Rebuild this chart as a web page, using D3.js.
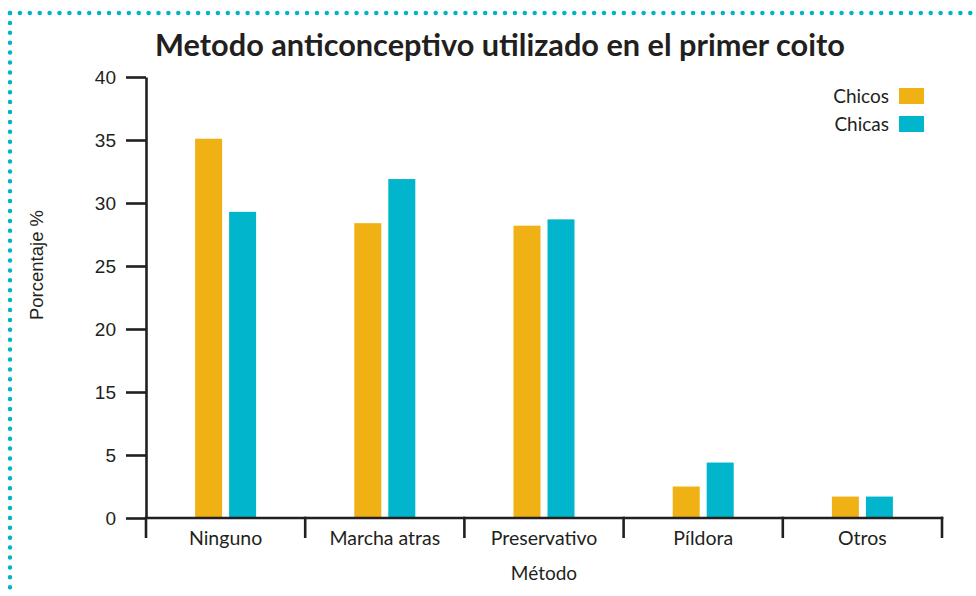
<!DOCTYPE html>
<html>
<head>
<meta charset="utf-8">
<script src="https://cdn.jsdelivr.net/npm/d3@7"></script>
<style>
	body { margin: 0; background: #fff; }
	svg { display: block; }
</style>
</head>
<body>
<svg id="chart" width="976" height="596"></svg>
<script>
(function() {

	var categories = ['Ninguno', 'Marcha atras', 'Preservativo', 'Píldora', 'Otros'];
	var series = ['Chicos', 'Chicas'];
	var chicos = [35.1, 28.4, 28.2, 2.5, 1.7];
	var chicas = [29.3, 31.9, 28.7, 4.4, 1.7];
	// the source axis skips 10, ticks are evenly spaced anyway
	var yTicks = [0, 5, 15, 20, 25, 30, 35, 40];

	var COLORS = {Chicos: '#f0b114', Chicas: '#00b5cc'};
	var INK = '#231f20';
	var LEFT = 146, RIGHT = 942, TOP = 77, BOTTOM = 518;
	var LABEL_FONT = 'Lato, sans-serif';

	var svg = d3.select('#chart');

	// dotted frame
	var frame = svg.append('g')
		.attr('fill', 'none')
		.attr('stroke', '#00b4c8')
		.attr('stroke-width', 4.5)
		.attr('stroke-linecap', 'round')
		.attr('stroke-dasharray', '0 9.9');
	frame.append('path').attr('d', 'M10,13 H976');
	frame.append('path').attr('d', 'M10,13 V596');
	frame.append('path').attr('d', 'M10,598.5 H976').attr('stroke', '#bfe9ef');

	var step = (BOTTOM - TOP) / (yTicks.length - 1);
	var y = d3.scaleLinear()
		.domain(yTicks)
		.range(yTicks.map(function(d, i) { return BOTTOM - i * step; }));

	var x = d3.scaleBand().domain(categories).range([LEFT, RIGHT]);
	var xSub = d3.scaleBand().domain(series).range([-30.5, 30.5]).paddingInner(0.206);

	var rows = categories.map(function(c, i) {
		return {cat: c, values: [{s: 'Chicos', v: chicos[i]}, {s: 'Chicas', v: chicas[i]}]};
	});

	// bars
	svg.append('g').selectAll('g')
		.data(rows)
		.join('g')
		.attr('transform', function(d) { return 'translate(' + (x(d.cat) + x.bandwidth() / 2) + ',0)'; })
		.selectAll('rect')
		.data(function(d) { return d.values; })
		.join('rect')
		.attr('x', function(d) { return xSub(d.s); })
		.attr('width', xSub.bandwidth())
		.attr('y', function(d) { return y(d.v); })
		.attr('height', function(d) { return BOTTOM - y(d.v); })
		.attr('fill', function(d) { return COLORS[d.s]; });

	// y axis
	var yAxis = svg.append('g')
		.attr('transform', 'translate(' + LEFT + ',0)')
		.call(d3.axisLeft(y).tickValues(yTicks).tickSize(20).tickPadding(10).tickSizeOuter(0));
	yAxis.select('.domain').attr('stroke', INK).attr('stroke-width', 2.6);
	yAxis.selectAll('.tick line').attr('stroke', INK).attr('stroke-width', 2.6);
	yAxis.selectAll('.tick text')
		.attr('fill', INK)
		.style('font-family', '"Liberation Sans", Arial, sans-serif')
		.style('font-size', '19px');

	// x axis, ticks on the band edges
	var xAxis = svg.append('g').attr('transform', 'translate(0,' + BOTTOM + ')');
	xAxis.append('line')
		.attr('x1', LEFT).attr('x2', RIGHT + 1.3)
		.attr('stroke', INK).attr('stroke-width', 2.6);
	xAxis.selectAll('line.edge')
		.data(categories.concat(['end']))
		.join('line')
		.attr('class', 'edge')
		.attr('x1', function(d) { return d == 'end' ? RIGHT : x(d); })
		.attr('x2', function(d) { return d == 'end' ? RIGHT : x(d); })
		.attr('y1', -1.3).attr('y2', 20)
		.attr('stroke', INK).attr('stroke-width', 2.6);
	xAxis.selectAll('text')
		.data(categories)
		.join('text')
		.attr('x', function(d) { return x(d) + x.bandwidth() / 2; })
		.attr('y', 27)
		.attr('text-anchor', 'middle')
		.attr('fill', INK)
		.style('font-family', LABEL_FONT)
		.style('font-size', '19.5px')
		.text(function(d) { return d; });

	// titles
	svg.append('text')
		.attr('x', 500).attr('y', 56)
		.attr('text-anchor', 'middle')
		.attr('fill', INK)
		.style('font-family', LABEL_FONT)
		.style('font-weight', 'bold')
		.style('font-size', '30.7px')
		.text('Metodo anticonceptivo utilizado en el primer coito');

	svg.append('text')
		.attr('x', 544).attr('y', 580)
		.attr('text-anchor', 'middle')
		.attr('fill', INK)
		.style('font-family', LABEL_FONT)
		.style('font-size', '19px')
		.text('Método');

	svg.append('text')
		.attr('transform', 'translate(43,265) rotate(-90)')
		.attr('text-anchor', 'middle')
		.attr('fill', INK)
		.style('font-family', '"Liberation Sans", Arial, sans-serif')
		.style('font-size', '18.5px')
		.text('Porcentaje %');

	// legend
	var legend = svg.append('g').selectAll('g')
		.data(series)
		.join('g')
		.attr('transform', function(d, i) { return 'translate(0,' + (88 + i * 28) + ')'; });
	legend.append('rect')
		.attr('x', 899).attr('width', 25).attr('height', 16)
		.attr('fill', function(d) { return COLORS[d]; });
	legend.append('text')
		.attr('x', 889).attr('y', 15)
		.attr('text-anchor', 'end')
		.attr('fill', INK)
		.style('font-family', LABEL_FONT)
		.style('font-size', '19px')
		.text(function(d) { return d; });
}());
</script>
</body>
</html>
